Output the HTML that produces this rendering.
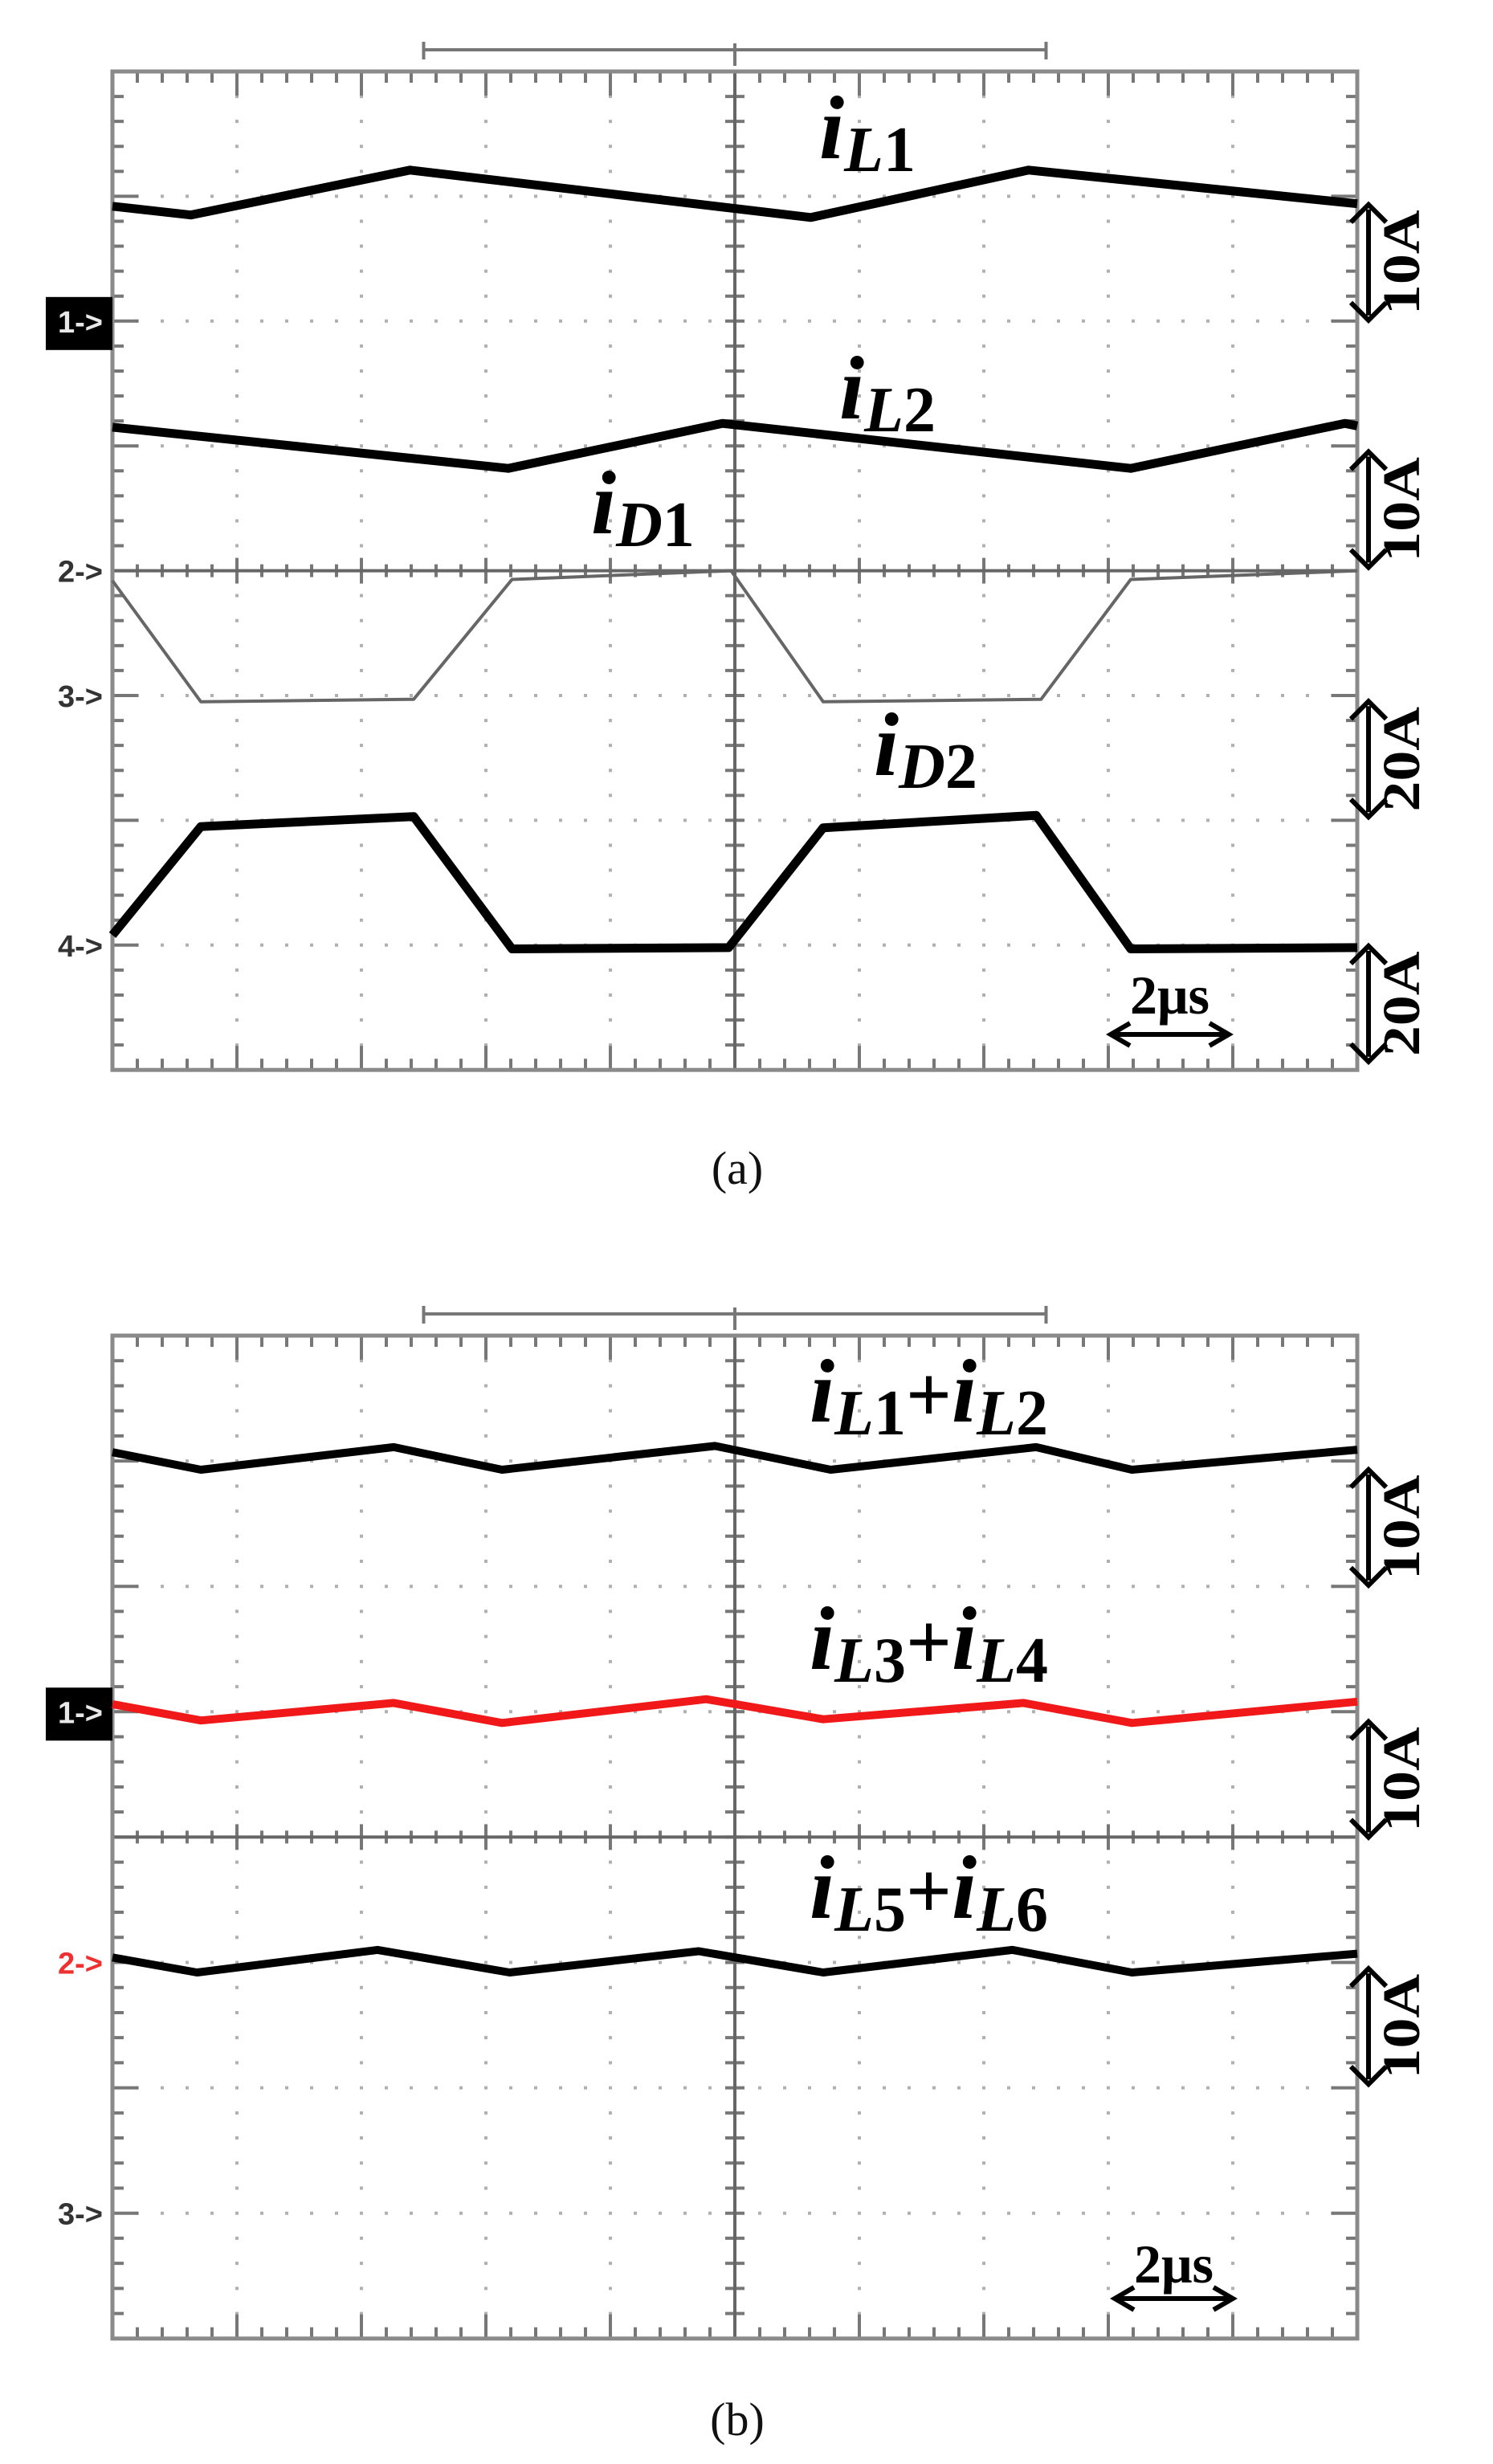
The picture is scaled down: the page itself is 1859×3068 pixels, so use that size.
<!DOCTYPE html>
<html><head><meta charset="utf-8"><style>
html,body{margin:0;padding:0;background:#fff;}
svg{display:block;}
.lab{font-family:"Liberation Serif",serif;font-weight:bold;font-style:italic;fill:#000;}
.sub{font-family:"Liberation Serif",serif;font-weight:bold;fill:#000;}
.num{font-style:normal;}
.ch{font-family:"Liberation Sans",sans-serif;font-weight:bold;font-size:38px;}
.cap{font-family:"Liberation Serif",serif;font-size:58px;fill:#111;}
.sc{font-family:"Liberation Serif",serif;font-weight:bold;fill:#000;}
</style></head><body>
<svg id="fig" width="1859" height="3068" viewBox="0 0 1859 3068" xmlns="http://www.w3.org/2000/svg">
<g id="panelA"></g>
<g id="panelB"></g>

<text class="lab" x="1020" y="197" font-size="112">i<tspan class="sub" font-size="80" dy="16">L</tspan><tspan class="sub num" font-size="80">1</tspan></text>
<text class="lab" x="1045" y="521" font-size="112">i<tspan class="sub" font-size="80" dy="16">L</tspan><tspan class="sub num" font-size="80">2</tspan></text>
<text class="lab" x="736" y="664" font-size="112">i<tspan class="sub" font-size="80" dy="16">D</tspan><tspan class="sub num" font-size="80">1</tspan></text>
<text class="lab" x="1088" y="965" font-size="112">i<tspan class="sub" font-size="80" dy="16">D</tspan><tspan class="sub num" font-size="80">2</tspan></text>

<text class="lab" x="1008" y="1770" font-size="112">i<tspan class="sub" font-size="80" dy="16">L</tspan><tspan class="sub num" font-size="80">1</tspan><tspan class="sub num" font-size="100" dy="-16">+</tspan><tspan font-size="112">i</tspan><tspan class="sub" font-size="80" dy="16">L</tspan><tspan class="sub num" font-size="80">2</tspan></text>
<text class="lab" x="1008" y="2078" font-size="112">i<tspan class="sub" font-size="80" dy="16">L</tspan><tspan class="sub num" font-size="80">3</tspan><tspan class="sub num" font-size="100" dy="-16">+</tspan><tspan font-size="112">i</tspan><tspan class="sub" font-size="80" dy="16">L</tspan><tspan class="sub num" font-size="80">4</tspan></text>
<text class="lab" x="1008" y="2388" font-size="112">i<tspan class="sub" font-size="80" dy="16">L</tspan><tspan class="sub num" font-size="80">5</tspan><tspan class="sub num" font-size="100" dy="-16">+</tspan><tspan font-size="112">i</tspan><tspan class="sub" font-size="80" dy="16">L</tspan><tspan class="sub num" font-size="80">6</tspan></text>

<text class="cap" x="918" y="1474" text-anchor="middle">(a)</text>
<text class="cap" x="918" y="3032" text-anchor="middle">(b)</text>
<g id="scales"></g>
</svg>
<script>
var iL1_t = [0, 0.63, 2.39, 5.61, 7.36, 10];
var iL1_v = [1.08, 1.15, 0.79, 1.17, 0.79, 1.06];
var iL2_t = [0, 3.18, 4.9, 8.18, 9.9, 10];
var iL2_v = [2.85, 3.18, 2.82, 3.18, 2.82, 2.84];
var iD1_t = [0, 0.71, 2.42, 3.21, 4.97, 5.71, 7.46, 8.18, 10];
var iD1_v = [4.08, 5.05, 5.03, 4.07, 4.0, 5.05, 5.03, 4.07, 4.0];
var iD2_t = [0, 0.71, 2.42, 3.21, 4.95, 5.71, 7.42, 8.18, 10];
var iD2_v = [6.92, 6.05, 5.97, 7.03, 7.02, 6.06, 5.96, 7.03, 7.02];
var sum12_t = [0, 0.71, 2.26, 3.13, 4.84, 5.77, 7.42, 8.19, 10];
var sum12_v = [0.93, 1.07, 0.89, 1.07, 0.88, 1.07, 0.89, 1.07, 0.91];
var sum34_t = [0, 0.71, 2.26, 3.13, 4.77, 5.71, 7.32, 8.19, 10];
var sum34_v = [2.94, 3.07, 2.93, 3.09, 2.9, 3.06, 2.93, 3.09, 2.92];
var sum56_t = [0, 0.68, 2.13, 3.19, 4.71, 5.71, 7.23, 8.19, 10];
var sum56_v = [4.96, 5.08, 4.9, 5.08, 4.91, 5.08, 4.9, 5.08, 4.93];
var chA_labels = ["1->", "2->", "3->", "4->"];
var chA_pos = [2, 4, 5, 7];
var chB_labels = ["1->", "2->", "3->"];
var chB_pos = [3, 5, 7];
var scaleA_labels = ["10A", "10A", "20A", "20A"];
var scaleA_center = [1.53, 3.51, 5.51, 7.47];
var scaleB_labels = ["10A", "10A", "10A"];
var scaleB_center = [1.53, 3.54, 5.51];

var NS = "http://www.w3.org/2000/svg";
var X0 = 140, DX = 155;
function xS(t){ return X0 + t*DX; }
function mk(parent, tag, attrs){
  var e = document.createElementNS(NS, tag);
  for (var k in attrs) e.setAttribute(k, attrs[k]);
  parent.appendChild(e); return e;
}
function drawPanel(g, top, dy, solidDiv, chLabels, chPos, boxIdx, redIdx, scaleLabels, scaleCenter){
  function yS(d){ return top + d*dy; }
  var right = xS(10), bottom = yS(8);
  var dots = "";
  for (var i=1;i<10;i++){ if(i==5) continue;
    for (var j=0;j<=40;j++){ dots += "M"+(xS(i)-2)+" "+(yS(j/5)-2)+"h4v4h-4z"; } }
  for (var i=1;i<8;i++){ if(i==solidDiv) continue;
    for (var j=0;j<=50;j++){ dots += "M"+(xS(j/5)-2)+" "+(yS(i)-2)+"h4v4h-4z"; } }
  var gd = mk(g,"path",{d:dots, fill:"#b0b0b0"});
  
  
  var tk = "";
  for (var j=0;j<=50;j++){ var x=xS(j/5), L=(j%5==0)?30:14;
    tk += "M"+x+" "+top+"v"+L+"M"+x+" "+bottom+"v-"+L;
    tk += "M"+x+" "+(yS(solidDiv)-8)+"v16";
    if (j%5==0) tk += "M"+x+" "+(yS(solidDiv)-16)+"v32"; }
  for (var j=0;j<=40;j++){ var y=yS(j/5), L=(j%5==0)?32:14;
    tk += "M"+X0+" "+y+"h"+L+"M"+right+" "+y+"h-"+L;
    tk += "M"+(xS(5)-12)+" "+y+"h24"; }
  var gt = mk(g,"path",{d:tk, stroke:"#777", "stroke-width":4, fill:"none"});
  
  
  var cl = mk(g,"path",{d:"M"+xS(5)+" "+top+"V"+bottom+"M"+X0+" "+yS(solidDiv)+"H"+right, stroke:"#666","stroke-width":4});
  
  
  var fr = mk(g,"rect",{x:X0,y:top,width:right-X0,height:bottom-top,fill:"none",stroke:"#8a8a8a","stroke-width":5});
  
  
  var by = top-27;
  var br = mk(g,"path",{d:"M"+xS(2.5)+" "+by+"H"+xS(7.5)+"M"+xS(2.5)+" "+(by-10)+"v22M"+xS(7.5)+" "+(by-10)+"v22M"+xS(5)+" "+(by-8)+"v28",stroke:"#777","stroke-width":4,fill:"none"});
  
  
  for (var i=0;i<chLabels.length;i++){
    var y = yS(chPos[i]);
    if (i==boxIdx){
      var bx = mk(g,"rect",{x:57,y:y-30,width:83,height:66,fill:"#000"});
      
      
    }
    var t = mk(g,"text",{x:128,y:y+14,"text-anchor":"end","class":"ch",fill:(i==boxIdx)?"#e8e8e8":(i==redIdx?"#ee3030":"#333")});
    t.textContent = chLabels[i];
    
    
  }
  for (var i=0;i<scaleLabels.length;i++){
    var c = yS(scaleCenter[i]), h=72;
    var a = mk(g,"path",{d:"M1704 "+(c-h+6)+"V"+(c+h-6)+"M1682 "+(c-h+22)+"L1704 "+(c-h)+"L1726 "+(c-h+22)+"M1682 "+(c+h-22)+"L1704 "+(c+h)+"L1726 "+(c+h-22),stroke:"#000","stroke-width":6,fill:"none"});
    
    
    var t = mk(g,"text",{x:0,y:0,"class":"sc","font-size":"66","text-anchor":"middle",transform:"translate(1767 "+c+") rotate(-90) scale(1.15 1)"});
    t.textContent = scaleLabels[i];
    
    
  }
  return yS;
}
function trace(g, ts, vs, yS, color, w, name){
  var d="";
  for (var i=0;i<ts.length;i++) d += (i?"L":"M")+xS(ts[i]).toFixed(1)+" "+yS(vs[i]).toFixed(1);
  var p = mk(g,"path",{d:d,stroke:color,"stroke-width":w,fill:"none","stroke-linejoin":"round"});
  
  
}
var gA = document.getElementById("panelA"), gB = document.getElementById("panelB");
var yA = drawPanel(gA, 89, 155.4, 4, chA_labels, chA_pos, 0, -1, scaleA_labels, scaleA_center);
trace(gA, iL1_t, iL1_v, yA, "#000", 11, "trace-il1");
trace(gA, iL2_t, iL2_v, yA, "#000", 11, "trace-il2");
trace(gA, iD1_t, iD1_v, yA, "#666", 4, "trace-id1");
trace(gA, iD2_t, iD2_v, yA, "#000", 11, "trace-id2");
var yB = drawPanel(gB, 1663, 156.1, 4, chB_labels, chB_pos, 0, 1, scaleB_labels, scaleB_center);
trace(gB, sum12_t, sum12_v, yB, "#000", 10, "trace-il1-plus-il2");
trace(gB, sum34_t, sum34_v, yB, "#f01818", 10, "trace-il3-plus-il4");
trace(gB, sum56_t, sum56_v, yB, "#000", 10, "trace-il5-plus-il6");

var sg = document.getElementById("scales");
function timeScale(x1, x2, y, ty){
  var a = mk(sg,"path",{d:"M"+(x1+6)+" "+y+"H"+(x2-6)+"M"+(x1+24)+" "+(y-14)+"L"+x1+" "+y+"L"+(x1+24)+" "+(y+14)+"M"+(x2-24)+" "+(y-14)+"L"+x2+" "+y+"L"+(x2-24)+" "+(y+14),stroke:"#000","stroke-width":6,fill:"none"});
  
  
  var t = mk(sg,"text",{x:(x1+x2)/2,y:ty,"text-anchor":"middle","class":"sc","font-size":"68"});
  t.textContent = "2μs";
  
  
}
timeScale(1383, 1530, 1288, 1262);
timeScale(1388, 1535, 2862, 2842);
</script>
</body></html>
